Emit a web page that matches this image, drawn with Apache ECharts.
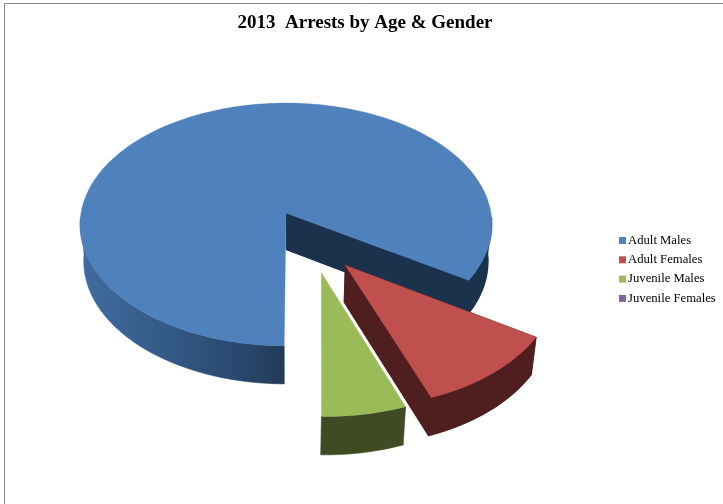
<!DOCTYPE html>
<html><head><meta charset="utf-8">
<style>html,body{margin:0;padding:0;background:#fff}#c{width:723px;height:504px}</style>
<script src="https://cdn.jsdelivr.net/npm/echarts@6/dist/echarts.min.js"></script>
</head><body><div id="c"></div>
<script>
const titleText = '2013  Arrests by Age & Gender';
const categories = ['Adult Males', 'Adult Females', 'Juvenile Males', 'Juvenile Females'];
const shares = [83.67, 10.44, 5.89, 0];
const topColors = ['#4f81bd', '#c0504d', '#9bbb59', '#8064a2'];
const sideColors = ['#1b324c', '#4e1f1e', '#3f4b22', '#33283f'];
const explodeAmount = [0, 0.5, 0.5, 0.5];
const explodeDirDeg = [0, 33.7, 19.2, 0];
const sliceRadius = [1, 0.985, 0.985, 1];
const startTrimDeg = [-0.45, 0, 0, 0];
const hasOpenFace = [true, true, false, false];

// perspective projection of the pie disc
const P = {cx: 286, cy: 213, a: 120.4, b: 205, k: 0.0947, m: 0.018, d: 37.4};
const total = shares.reduce((s, v) => s + v, 0);
// angles measured from straight-down, positive toward the right; slices run clockwise
const START = 359.1;
function project(u, v, z) {
  const w = 1 - P.k * v + P.m * z;
  return [P.cx + P.b * u / w, P.cy + (P.a * v + P.d * z) / w];
}
const rad = d => d * Math.PI / 180;
function area(pts) {
  let s = 0;
  pts.forEach((p, i) => { const q = pts[(i + 1) % pts.length]; s += p[0] * q[1] - q[0] * p[1]; });
  return Math.abs(s) / 2;
}
function renderSlice(i) {
  if (!shares[i]) return {type: 'group', children: []};
  let before = 0;
  for (let j = 0; j < i; j++) before += shares[j];
  // clockwise on screen = decreasing angle measured toward the right from the bottom
  const full0 = START - before / total * 360;
  const a0 = full0 - startTrimDeg[i];
  const a1 = full0 - shares[i] / total * 360;
  const ox = explodeAmount[i] * Math.sin(rad(explodeDirDeg[i]));
  const oy = explodeAmount[i] * Math.cos(rad(explodeDirDeg[i]));
  const R = sliceRadius[i];
  const pt = (deg, z) => project(ox + R * Math.sin(rad(deg)), oy + R * Math.cos(rad(deg)), z);
  const apex = z => project(ox, oy, z);
  const arc = (from, to, z) => {
    const n = Math.max(2, Math.ceil(Math.abs(to - from) / 1.5));
    const out = [];
    for (let t = 0; t <= n; t++) out.push(pt(from + (to - from) * t / n, z));
    return out;
  };
  const kids = [];
  const poly = (points, fill, sw) => kids.push({type: 'polygon', silent: true,
    shape: {points}, style: {fill, stroke: sw ? fill : null, lineWidth: sw || 0}});
  const side = sideColors[i];
  // underside wedge in the side colour, so neighbouring side faces show no seam
  if (hasOpenFace[i]) poly([apex(1)].concat(i === 0 ? arc(a1, 88, 1) : arc(a0, a1, 1)), side);
  // flat cut faces (edge-on faces are left out)
  [a0, a1].forEach(deg => {
    const face = [apex(0), pt(deg, 0), pt(deg, 1), apex(1)];
    if (hasOpenFace[i] && area(face) > 1200) poly(face, side, 0.6);
  });
  // rim: only the parts turned toward the viewer
  const lo = Math.min(a0, a1), hi = Math.max(a0, a1);
  [[-88, 88], [272, 448]].forEach(([s, e]) => {
    const f = Math.max(lo, s), t = Math.min(hi, e);
    if (t <= f) return;
    const fill = i === 0 && s === 272 ? {
      type: 'linear', x: 0, y: 0, x2: 1, y2: 0,
      colorStops: [{offset: 0, color: '#3f6c9f'}, {offset: 0.35, color: '#365d8b'},
                   {offset: 0.75, color: '#2a4a70'}, {offset: 1, color: '#223a58'}]
    } : side;
    poly(arc(f, t, 0).concat(arc(t, f, 1)), fill, 0.6);
  });
  // top surface
  poly([apex(0)].concat(arc(a0, a1, 0)), topColors[i], 0.3);
  return {type: 'group', children: kids};
}
const series = categories.map((name, i) => ({
  name, type: 'custom', coordinateSystem: 'none',
  data: [shares[i]], z: i === 3 ? 1 : 2 + i,
  itemStyle: {color: topColors[i]},
  renderItem: () => renderSlice(i)
}));
const chart = echarts.init(document.getElementById('c'), null, {renderer: 'canvas'});
chart.setOption({
  animation: false,
  backgroundColor: '#fff',
  color: topColors,
  title: {text: titleText, left: 360, top: 9, textAlign: 'center',
    textStyle: {fontFamily: 'Liberation Serif', fontSize: 19, fontWeight: 'bold', color: '#000'}},
  legend: {orient: 'vertical', left: 619, top: 234, icon: 'rect', itemWidth: 7, itemHeight: 7,
    itemGap: 6.3, selectedMode: false, data: categories, padding: 0,
    textStyle: {fontFamily: 'Liberation Serif', fontSize: 12.7, color: '#000', padding: [0, 0, 0, -3], lineHeight: 12}},
  graphic: [{type: 'polyline', silent: true,
    shape: {points: [[4.5, 504], [4.5, 3.5], [723, 3.5]]},
    style: {stroke: '#868686', lineWidth: 1, fill: null}}],
  series
});
</script></body></html>
